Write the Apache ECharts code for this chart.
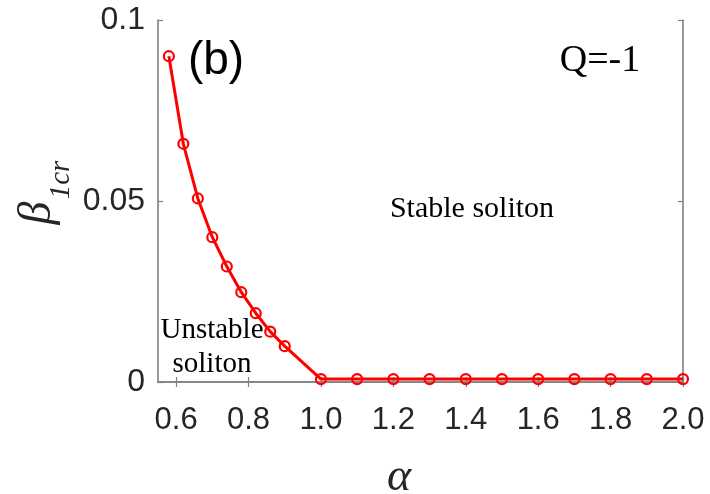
<!DOCTYPE html>
<html>
<head>
<meta charset="utf-8">
<script src="https://cdn.jsdelivr.net/npm/echarts@6/dist/echarts.min.js"></script>
<style>
html,body{margin:0;padding:0;background:#fff;}
#c{width:710px;height:494px;}
</style>
</head>
<body>
<div id="c"></div>
<script>
// ---- data ----
var alphaValues = [0.58, 0.62, 0.66, 0.70, 0.74, 0.78, 0.82, 0.86, 0.90, 1.0, 1.1, 1.2, 1.3, 1.4, 1.5, 1.6, 1.7, 1.8, 1.9, 2.0];
var beta1crValues = [0.090, 0.0658, 0.0507, 0.0400, 0.0319, 0.0248, 0.0190, 0.0139, 0.0099, 0.0008, 0.0008, 0.0008, 0.0008, 0.0008, 0.0008, 0.0008, 0.0008, 0.0008, 0.0008, 0.0008];
var xTickValues = [0.6, 0.8, 1.0, 1.2, 1.4, 1.6, 1.8, 2.0];
var yTickValues = [0, 0.05, 0.1];

var pts = alphaValues.map(function (a, i) { return [a, beta1crValues[i]]; });

var axisGrey = '#808080';
var textCol = '#262626';
var sans = "'Liberation Sans', Arial, sans-serif";
var serif = "'Liberation Serif', 'Times New Roman', serif";

var chart = echarts.init(document.getElementById('c'), null, {renderer: 'canvas'});
chart.setOption({
  animation: false,
  backgroundColor: '#ffffff',
  grid: {left: 158, right: 27, top: 20, bottom: 112, containLabel: false},
  xAxis: [{
    type: 'value', min: 0.55, max: 2.0, position: 'bottom',
    splitLine: {show: false},
    axisLine: {lineStyle: {color: axisGrey, width: 1.6}},
    axisTick: {inside: true, length: 5, lineStyle: {color: axisGrey, width: 1.2}, customValues: xTickValues},
    axisLabel: {customValues: xTickValues, formatter: function (v) { return v.toFixed(1); },
      fontFamily: sans, fontSize: 31, color: textCol, margin: 23}
  }, {
    type: 'value', min: 0.55, max: 2.0, position: 'top',
    splitLine: {show: false},
    axisLine: {lineStyle: {color: axisGrey, width: 1.6}},
    axisTick: {inside: true, length: 5, lineStyle: {color: axisGrey, width: 1.2}, customValues: xTickValues},
    axisLabel: {show: false}
  }],
  yAxis: [{
    type: 'value', min: 0, max: 0.1, position: 'left',
    splitLine: {show: false},
    axisLine: {show: true, lineStyle: {color: axisGrey, width: 1.6}},
    axisTick: {show: true, inside: true, length: 5, lineStyle: {color: axisGrey, width: 1.2}, customValues: yTickValues},
    axisLabel: {customValues: yTickValues, formatter: function (v) { return String(+v.toFixed(2)); },
      fontFamily: sans, fontSize: 32, color: textCol, margin: 13}
  }, {
    type: 'value', min: 0, max: 0.1, position: 'right',
    splitLine: {show: false},
    axisLine: {show: true, lineStyle: {color: axisGrey, width: 1.6}},
    axisTick: {show: true, inside: true, length: 5, lineStyle: {color: axisGrey, width: 1.2}, customValues: yTickValues},
    axisLabel: {show: false}
  }],
  series: [{
    type: 'line',
    data: pts,
    xAxisIndex: 0, yAxisIndex: 0,
    symbol: 'circle', symbolSize: 10,
    lineStyle: {color: '#ff0000', width: 3},
    itemStyle: {color: 'rgba(0,0,0,0)', borderColor: '#ff0000', borderWidth: 2.2},
    clip: false,
    z: 3
  }],
  graphic: [
    {type: 'text', x: 216, y: 61, z: 10, style: {text: '(b)', font: "46px " + sans, fill: '#000', align: 'center', verticalAlign: 'middle'}},
    {type: 'text', x: 600, y: 61, z: 10, style: {text: 'Q=-1', font: "38px " + serif, fill: '#000', align: 'center', verticalAlign: 'middle'}},
    {type: 'text', x: 472, y: 209, z: 10, style: {text: 'Stable soliton', font: "30px " + serif, fill: '#000', align: 'center', verticalAlign: 'middle'}},
    {type: 'text', x: 212, y: 330, z: 10, style: {text: 'Unstable', font: "29px " + serif, fill: '#000', align: 'center', verticalAlign: 'middle'}},
    {type: 'text', x: 212, y: 364, z: 10, style: {text: 'soliton', font: "29px " + serif, fill: '#000', align: 'center', verticalAlign: 'middle'}},
    {type: 'text', x: 399, y: 478, z: 10, style: {text: 'α', font: "italic 46px " + serif, fill: textCol, align: 'center', verticalAlign: 'middle'}},
    {type: 'text', x: 38, y: 213, rotation: Math.PI / 2, z: 10, style: {text: 'β', font: "italic 46px " + serif, fill: textCol, align: 'center', verticalAlign: 'middle'}},
    {type: 'text', x: 61, y: 180, rotation: Math.PI / 2, z: 10, style: {text: '1cr', font: "italic 29px " + serif, fill: textCol, align: 'center', verticalAlign: 'middle'}}
  ]
});
</script>
</body>
</html>
